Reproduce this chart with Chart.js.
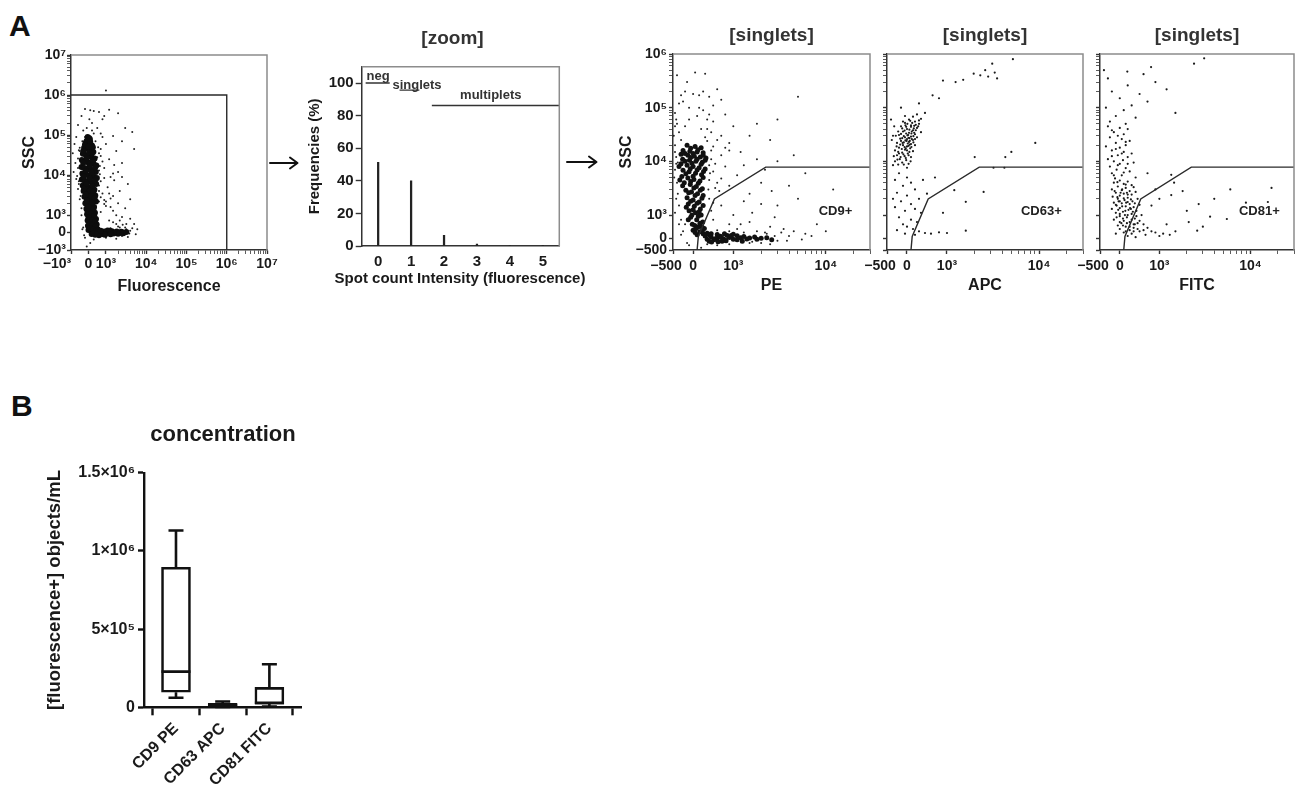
<!DOCTYPE html>
<html><head><meta charset="utf-8">
<script src="https://cdn.jsdelivr.net/npm/chart.js@4.4.1/dist/chart.umd.min.js"></script>
<style>
html,body{margin:0;padding:0;background:#fff;width:1298px;height:794px;overflow:hidden;position:relative;font-family:"Liberation Sans",Arial,sans-serif;}
canvas{position:absolute;}
.letter{position:absolute;font-weight:bold;font-size:30px;color:#111;line-height:1;}
</style></head><body>
<div class="letter" style="left:9px;top:10.5px">A</div>
<div class="letter" style="left:11px;top:390.5px">B</div>
<svg width="1298" height="794" style="position:absolute;left:0;top:0;pointer-events:none">
<g stroke="#111" stroke-width="2" fill="none" stroke-linecap="round" stroke-linejoin="round">
<path d="M270 163 H297 M290 157.5 L297.5 163 L290 168.5"/>
<path d="M567 162 H596 M589 156.5 L596.5 162 L589 167.5"/>
</g></svg>
<canvas id="c1" width="285" height="270" style="left:0;top:40px"></canvas>
<canvas id="c2" width="305" height="285" style="left:290px;top:20px"></canvas>
<canvas id="c3" width="285" height="285" style="left:600px;top:20px"></canvas>
<canvas id="c4" width="228" height="285" style="left:860px;top:20px"></canvas>
<canvas id="c5" width="225" height="285" style="left:1073px;top:20px"></canvas>
<canvas id="c6" width="320" height="374" style="left:0;top:420px"></canvas>
<script>
// ---------------- DATA ----------------
// Panel A, plot 1: Fluorescence vs SSC (event values)
const fluorXTicks = [-1000, 0, 1000, 1e4, 1e5, 1e6, 1e7];
const fluorXLabels = ['\u221210\u00b3\u2003\u2003', '0', '10\u00b3', '10\u2074', '10\u2075', '10\u2076', '10\u2077'];
const fluorYTicks = [-1000, 0, 1000, 1e4, 1e5, 1e6, 1e7];
const fluorYLabels = ['\u221210\u00b3', '0', '10\u00b3', '10\u2074', '10\u2075', '10\u2076', '10\u2077'];
const fluorGate = [[-1000, 1e6], [1e6, 1e6], [1e6, -1000]];
const fluorCore = [
[-50,90000],[80,80000],[-150,65000],[60,60000],[200,55000],[-250,48000],[-60,45000],[120,42000],[280,38000],
[-320,34000],[-150,32000],[20,30000],[180,28000],[350,26000],
[-380,24000],[-200,22000],[-40,21000],[130,20000],[300,19000],[450,17500],
[-400,16000],[-230,15000],[-70,14500],[100,14000],[260,13000],[420,12000],
[-350,11000],[-180,10500],[-20,10000],[150,9500],[320,9000],[480,8500],
[-380,7800],[-220,7300],[-60,7000],[110,6700],[280,6300],[440,6000],
[-330,5500],[-170,5200],[0,4900],[170,4600],[340,4300],
[-280,4000],[-120,3700],[50,3500],[220,3300],[390,3100],
[-230,2900],[-70,2700],[100,2500],[270,2350],[430,2200],
[-180,2000],[-20,1850],[150,1700],[320,1600],
[-120,1450],[40,1350],[200,1250],[370,1150],
[-80,1050],[90,950],[260,850],[430,780],
[-50,700],[120,620],[290,540],[470,460],
[-30,400],[150,330],[330,260],[520,200],
[0,150],[200,90],[400,40],[650,0],[900,60],[1150,-20],[1400,80],[1700,10],[2000,-60],[2400,50],
[180,-80],[380,-120],[600,-150],[850,-90],[1100,120],
[30,85000],[-100,72000],[100,68000],[-200,58000],[250,50000],[0,52000],[-300,40000],[50,37000],[200,35000],
[-100,27000],[270,24000],[-300,20500],[60,17000],[380,15500],[-150,12500],[200,11500],[-280,9300],[80,8200],
[380,7500],[-120,6000],[230,5400],[-250,4600],[80,4100],[280,3800],[-150,3300],[150,3000],[350,2700],
[-100,2300],[220,2050],[0,1600],[280,1400],[-50,1250],[150,1100],[330,950],[0,850],[200,720],[380,640],
[60,500],[240,440],[420,370],[80,250],[270,180],[460,120],[550,80],[760,-60],[1000,20],[1250,100],
[1550,-50],[1850,60],[2200,-20],[300,-20],[500,-80],[700,100],[950,-130],[1300,-100],[2700,-40],[3200,40]
];
const fluorSparse = [
[-200,450000],[100,420000],[300,400000],[600,380000],[1200,430000],[2000,350000],[-400,300000],[800,250000],
[3000,150000],[4500,120000],[-600,180000],[200,200000],[500,150000],[-300,130000],[700,110000],[1500,95000],
[2500,70000],[-700,90000],[-800,60000],[1000,60000],[5000,45000],[1800,40000],[-900,35000],[700,30000],
[1200,25000],[-750,20000],[2500,20000],[900,15000],[-850,12000],[1500,11000],[-700,8000],[700,7000],
[3500,6000],[1100,5000],[-600,4500],[800,3500],[1500,3000],[-500,2500],[600,2200],[2000,2000],[1000,1700],
[-400,1500],[3000,1500],[1500,1300],[700,1200],[2500,900],[4000,800],[1200,700],[5000,500],[1800,500],
[3000,300],[-300,300],[6000,200],[4000,100],[2800,-100],[3500,-250],[5500,-100],[-200,-300],[300,-400],
[100,-600],[-100,-800],[1000,-300],[1800,-350],[2200,300],[3200,500],[900,1900],[1300,2600],[550,9000],
[600,13000],[650,17000],[-600,26000],[400,70000],[-100,150000],[50,250000],[900,300000],[1000,1300000],
[4000,2500],[2200,4000],[1600,7500],[-500,40000],[-650,9500],[-550,6000],[600,4000],[1300,9000],[2000,12000],
[550,50000],[700,45000],[-550,42000],[600,35000],[800,22000],[-600,15000],[650,10500],[900,8500],[-550,7000],
[600,5500],[1200,3500],[700,2800],[900,2400],[1300,1600],[1800,1000],[2200,700],[2600,450],[3200,200],
[3800,-50],[4500,250],[-350,200],[-250,-150],[-400,1000],[-450,3000],[500,28000],[-500,48000],[300,110000],
[-200,90000],[200,130000],[-350,70000],[800,90000],[1600,18000],[2500,9000],[1000,2200],[1500,600],
[2600,150],[900,-200],[1300,250],[2000,350],[2500,-200]
];

// Panel A, histogram: spot count intensity
const histX = [0, 1, 2, 3, 4, 5];
const histY = [51.3, 40, 6.6, 1.2, 0.3, 0.1];
const histYTicks = [0, 20, 40, 60, 80, 100];
const histXTicks = [0, 1, 2, 3, 4, 5];
const negBar = [[-0.38, 100], [0.35, 100]];
const singletsBar = [[0.65, 95.6], [1.25, 95.6]];
const multipletsBar = [[1.63, 86.2], [5.5, 86.2]];

// Panel A, singlet plots (PE / APC / FITC vs SSC)
const sgXTicks = [-500, 0, 1000, 1e4];
const sgXLabels = ['\u2212500\u2003', '0', '10\u00b3', '10\u2074'];
const sgYTicks = [-500, 0, 1000, 1e4, 1e5, 1e6];
const sgYLabels = ['\u2212500', '0', '10\u00b3', '10\u2074', '10\u2075', '10\u2076'];
const singletGate = [[100, -500], [130, 80], [530, 2000], [2240, 7800], [30000, 7800]];
const peCore = [
[-150,20000],[50,19000],[200,18000],[-250,16000],[-80,15500],[100,15000],[250,14500],
[-300,13500],[-130,13000],[30,12500],[180,12000],[320,11500],
[-260,11000],[-90,10500],[70,10000],[230,9600],
[-300,9000],[-150,8500],[0,8000],[150,7600],[300,7200],
[-250,6800],[-100,6400],[60,6000],[210,5600],
[-280,5200],[-130,4900],[20,4600],[170,4300],
[-220,4000],[-70,3700],[80,3400],[230,3100],
[-180,2900],[-40,2700],[110,2500],[250,2300],
[-150,2100],[0,1900],[150,1750],
[-120,1600],[30,1450],[180,1300],
[-100,1200],[60,1100],[200,1000],
[-60,900],[90,800],[240,700],
[-20,600],[130,500],[280,420],
[0,350],[170,280],[350,220],
[100,150],[300,100],[450,60],[600,20],[750,-20],[900,40],[520,-60],[680,90],[850,120],[1000,-40],
[1200,30],[1400,-30],[1700,60],[2000,0],[400,-120],[620,-150],[820,-100],[1100,110],
[-60,17500],[120,16500],[-200,14000],[0,14000],[250,13000],[-60,11800],[100,11000],[300,10500],[-200,10000],
[-30,9200],[200,8800],[-350,8000],[-70,7300],[100,6900],[260,6500],[-180,5900],[0,5300],[250,5000],
[-330,4500],[-60,4200],[130,3900],[-260,3500],[20,3200],[180,2900],[-110,2600],[50,2300],[220,2050],
[-60,1800],[100,1650],[250,1500],[-170,1400],[0,1250],[150,1150],[-30,1000],[130,950],[-120,800],
[170,650],[40,550],[220,500],[80,420],[230,320],[50,250],[250,200],[400,150],[350,-40],[550,-20],
[700,40],[800,-80],[950,120],[1100,-60],[1300,80],[1500,20],[1800,-40],[2300,30],[450,200],[600,160],
[780,200],[1000,180],[460,-160],[720,-120],[1250,-120],[2600,-60]
];
const peSparse = [
[-400,400000],[50,450000],[300,430000],[-200,200000],[0,180000],[150,170000],[400,160000],[-350,120000],
[-100,100000],[250,90000],[500,110000],[700,140000],[-450,80000],[100,70000],[350,60000],[800,75000],
[-400,50000],[-200,45000],[200,40000],[450,35000],[1000,45000],[3000,60000],[5000,160000],[-480,30000],
[300,28000],[600,25000],[-450,20000],[500,19000],[900,22000],[1500,30000],[2500,25000],[-420,12000],
[450,11000],[700,13000],[1200,15000],[-450,7000],[500,6500],[800,8000],[1800,11000],[3000,10000],
[-400,4000],[400,4500],[700,4800],[1100,5500],[2000,4000],[-380,2500],[400,2000],[650,2800],[900,3500],
[1500,2500],[2600,2800],[4000,3500],[-350,1500],[450,1200],[700,1500],[1000,1000],[1300,1800],[2000,1600],
[3000,1500],[5000,2000],[-300,800],[500,800],[900,600],[1500,700],[2500,500],[3500,400],[4500,300],
[6000,200],[8000,600],[-250,300],[1100,400],[2200,250],[3000,-100],[4000,100],[5500,-50],[7000,100],
[10000,300],[-100,-300],[200,-400],[1500,-200],[2500,-250],[12000,3000],[6000,6000],[4500,13000],
[2200,7000],[1300,8500],[900,16000],[1800,50000],[-300,170000],[600,220000],[-350,35000],[-420,60000],
[350,24000],[-380,9500],[400,8500],[550,3200],[1600,1100],[2800,900],[-200,600],
[-450,15000],[-420,9000],[-470,5000],[450,16000],[550,9000],[420,6000],[600,4000],[380,3000],[500,1700],
[-420,2000],[-450,1100],[-350,600],[-300,150],[-150,-200],[350,-250],[600,-300],[900,-250],[1300,250],
[1800,300],[2300,200],[2800,100],[3300,250],[3800,-100],[1600,-150],[2000,-200],[600,350],[900,300],
[1200,600],[-300,25000],[350,40000],[-100,60000],[150,100000],[-250,130000],[400,75000],[-450,45000],
[250,200000],[-150,300000],[500,55000],[700,30000],[800,18000]
];
const apcPts = [
[250,75000],[150,68000],[350,62000],[50,60000],[200,55000],[-50,52000],[300,50000],[100,47000],[-150,45000],
[250,42000],[0,40000],[150,38000],[-100,36000],[50,34000],[200,32000],[-200,31000],[100,29000],[-50,28000],
[0,26000],[150,25000],[-150,24000],[50,23000],[-250,22000],[100,21000],[-100,20000],[0,19000],[-200,18000],
[80,17500],[-50,16500],[-300,16000],[150,15500],[-120,14500],[20,14000],[-250,13000],[-60,12500],[100,12000],
[-180,11000],[-20,10500],[-300,10000],[-120,9500],[40,9000],[-220,8700],[-350,8500],[0,7600],[-280,30000],
[-320,45000],[200,20000],[250,28000],[-380,25000],[350,35000],[-50,70000],[450,80000],[-150,100000],
[300,120000],[-400,60000],[100,44000],[-20,33000],[60,27000],[-80,22500],[120,36000],[-30,17500],
[30,31000],[180,46000],[-120,27000],[70,20500],[-10,24000],[220,38000],[-200,14000],[10,50000],
[-40,47000],[130,52000],[220,48000],[-120,41000],[60,39000],[170,41000],[-60,37500],[110,33000],[-150,32500],
[10,30500],[160,29500],[-80,29500],[40,27500],[-170,26500],[120,26000],[-40,24500],[70,24000],[-110,22000],
[20,21500],[160,22500],[-170,20500],[40,19500],[-60,18500],[110,18500],[-130,17000],[0,16000],[-220,15000],
[60,15000],[-90,13500],[-160,12000],[40,13000],[-30,11500],[-240,10800],[90,10000],[-80,8700],[180,34000],
[280,45000],[-220,36000],[-260,19000],[200,26000],[-20,44000],[80,57000],[-100,55000],[300,58000],
[-350,30000],[-330,12500],
[640,170000],[800,150000],[1240,300000],[1500,330000],[1950,430000],[2300,400000],[2600,500000],[3100,660000],
[3500,350000],[2800,380000],[3300,450000],[900,320000],[5200,800000],
[4300,12000],[5000,15000],[9100,22000],[3200,7600],[4200,7600],[2500,2700],[1600,1760],[900,1100],[1600,330],
[1200,2900],[2000,12000],[700,5000],
[-200,6000],[0,5000],[-300,4500],[100,4000],[-100,3500],[200,3000],[-250,2600],[0,2300],[300,2000],
[-150,1800],[100,1600],[-300,1400],[200,1300],[-50,1200],[350,1100],[-200,900],[100,800],[250,700],
[-100,600],[0,500],[150,400],[-250,350],[300,300],[450,230],[600,200],[800,260],[1000,230],[-50,200],
[200,150],[400,4500],[500,2500],[-350,2000]
];
const fitcPts = [
[3100,830000],[2400,660000],[790,570000],[190,470000],[-400,500000],[-300,350000],[600,420000],[900,300000],
[200,260000],[1200,220000],[-200,200000],[500,180000],[0,150000],[700,130000],[-350,100000],[300,110000],
[100,90000],[1500,80000],[-100,70000],[400,65000],[-250,55000],[150,50000],
[-300,45000],[0,42000],[200,40000],[-150,35000],[100,32000],[-250,28000],[50,26000],[250,24000],[-100,22000],
[150,20000],[-350,19000],[0,18000],[-200,16000],[100,15000],[300,14000],[-50,13000],[200,12000],[-300,11000],
[80,10500],[-150,10000],[350,9500],[0,9000],[-250,8000],[150,7500],[-80,7000],[250,6500],[-200,6000],
[50,5500],[400,5000],[-120,4800],
[0,4400],[200,4200],[-150,4000],[100,3800],[300,3600],[-50,3400],[150,3200],[-200,3000],[50,2900],[250,2800],
[400,2700],[-100,2600],[100,2500],[300,2400],[0,2300],[-180,2200],[200,2100],[450,2000],[-50,2000],[120,1900],
[320,1800],[-150,1700],[50,1650],[250,1600],[500,1550],[-80,1500],[150,1450],[350,1400],[0,1350],[-200,1300],
[220,1250],[420,1200],[80,1150],[-100,1100],[300,1050],[550,1000],[0,950],[180,900],[380,850],[-150,800],
[100,750],[250,700],[450,650],[600,600],[-50,550],[150,500],[350,450],[700,450],[0,400],[250,350],[500,300],
[800,300],[100,250],[-100,200],[300,200],[650,150],[900,250],[1100,200],[1300,150],[1500,300],[200,100],
[400,50],[1000,100],[60,3000],[180,2600],[-30,1800],[280,1300],[130,1000],[380,600],[40,650],[200,1750],
[-60,4100],[150,3700],[350,3300],[-130,2800],[20,2600],[200,2400],[-60,2150],[100,2050],[280,1950],[0,1800],
[160,1700],[380,1650],[-100,1550],[60,1450],[260,1350],[-40,1250],[140,1200],[330,1150],[0,1050],[200,1000],
[420,950],[-80,900],[80,850],[300,800],[500,750],[0,700],[180,650],[350,600],[80,550],[250,500],[450,400],
[600,350],[150,300],[350,300],[-150,5500],[100,6200],[-50,8500],[200,9000],[-200,12500],[50,14000],
[-100,17000],[150,23000],[-50,30000],[-200,38000],
[17000,3200],[15500,1750],[8900,1700],[5500,830],[3600,930],[2700,1600],[2600,330],[2100,700],[1350,2350],
[1450,4000],[1350,5600],[2000,1200],[1800,2800],[4000,2000],[3000,500],[1200,600],[6000,3000],[800,1500],
[1000,2000],[900,3000],[700,6000]
];

// Panel B: concentration box plot
const boxCats = ['CD9 PE', 'CD63 APC', 'CD81 FITC'];
const boxMin = [61000, 1500, 5000];
const boxQ1 = [96000, 4000, 20000];
const boxMed = [228000, 12000, 28000];
const boxQ3 = [895000, 25000, 127000];
const boxMax = [1130000, 37000, 275000];
const boxYTicks = [0, 500000, 1000000, 1500000];
const boxYLabels = ['0', '5\u00d710\u2075', '1\u00d710\u2076', '1.5\u00d710\u2076'];

// ---------------- SETUP ----------------
const FONT = '"Liberation Sans", Arial, sans-serif';
Chart.defaults.font.family = FONT;
Chart.defaults.font.weight = 'bold';
Chart.defaults.color = '#1a1a1a';
Chart.defaults.animation = false;
Chart.defaults.events = [];
Chart.defaults.plugins.legend.display = false;
Chart.defaults.plugins.tooltip.enabled = false;

// linear-around-zero / logarithmic display transform (biexponential-like axis)
const T = 1000;
function bx(v) { const a = Math.abs(v); return a <= T ? v / (T * Math.LN10) : Math.sign(v) * (Math.log10(a / T) + 1 / Math.LN10); }
function ibx(p) { const a = Math.abs(p); const k = 1 / Math.LN10; return a <= k ? p * T * Math.LN10 : Math.sign(p) * T * Math.pow(10, a - k); }

class BiexScale extends Chart.LinearScale {
  configure() { super.configure(); this._s0 = bx(this.min); this._s1 = bx(this.max); }
  getPixelForValue(v) { return (v === null || v === undefined) ? NaN : this.getPixelForDecimal((bx(v) - this._s0) / (this._s1 - this._s0)); }
  getValueForPixel(p) { return ibx(this._s0 + this.getDecimalForPixel(p) * (this._s1 - this._s0)); }
}
BiexScale.id = 'biex';
BiexScale.defaults = Chart.LinearScale.defaults;
Chart.register(BiexScale);

function minorsFor(lo, hi) { // minor ticks 2..9 x 10^k for decades in [lo, hi)
  const out = [];
  for (let d = lo; d < hi; d *= 10) for (let m = 2; m <= 9; m++) out.push(m * d);
  return out;
}
function tickList(majors, labels, minors) {
  const arr = majors.map((v, i) => ({ value: v, major: true, lab: labels ? labels[i] : '' }))
    .concat(minors.map(v => ({ value: v, major: false, lab: '' })));
  arr.sort((a, b) => a.value - b.value);
  return arr;
}
function textPlugin(items) {
  return {
    id: 'texts',
    afterDraw(chart) {
      const ctx = chart.ctx, a = chart.chartArea;
      ctx.save();
      items.forEach(it => {
        let x = it.x, y = it.y;
        if (it.data) { x = chart.scales.x.getPixelForValue(it.x); y = chart.scales.y.getPixelForValue(it.y); }
        if (it.cx) x = (a.left + a.right) / 2;
        ctx.font = 'bold ' + it.size + 'px ' + FONT;
        ctx.fillStyle = it.color || '#1a1a1a';
        ctx.textAlign = it.align || 'center';
        ctx.textBaseline = it.base || 'middle';
        ctx.fillText(it.t, x, y);
      });
      ctx.restore();
    }
  };
}
const framePlugin = {
  id: 'frame',
  afterDatasetsDraw(chart) {
    const ctx = chart.ctx, a = chart.chartArea;
    ctx.save();
    ctx.strokeStyle = '#8c8c8c'; ctx.lineWidth = 1.5;
    ctx.beginPath();
    ctx.moveTo(a.left, a.top); ctx.lineTo(a.right, a.top); ctx.lineTo(a.right, a.bottom);
    ctx.stroke();
    ctx.restore();
  }
};

function flowAxis(c) {
  return {
    type: 'biex', min: c.min, max: c.max,
    afterBuildTicks: s => { s.ticks = tickList(c.majors, c.labels, c.minors); },
    afterFit: s => { if (c.w !== undefined) s.width = c.w; if (c.h !== undefined) s.height = c.h; },
    ticks: { autoSkip: false, maxRotation: 0, minRotation: 0, padding: c.pad, font: { size: 14, weight: 'bold' }, color: '#1a1a1a',
      callback: (v, i, t) => t[i].lab },
    grid: { drawOnChartArea: false, drawTicks: true, tickLength: 4, tickColor: '#333',
      tickWidth: ctx => (ctx.tick && ctx.tick.major) ? 1.4 : 0.8 },
    border: { display: true, color: '#333', width: 1.5 },
    title: { display: !!c.title, text: c.title || '', font: { size: 16, weight: 'bold' }, color: '#1a1a1a', padding: c.titlePad }
  };
}
function pts(arr, r, color) {
  return { data: arr, pointRadius: r, pointBackgroundColor: color, pointBorderWidth: 0, showLine: false, pointHoverRadius: 0 };
}
function gate(arr) {
  return { data: arr, showLine: true, borderColor: '#2a2a2a', borderWidth: 1.4, pointRadius: 0, fill: false, tension: 0 };
}

// ---------------- Plot 1 ----------------
new Chart(document.getElementById('c1'), {
  type: 'scatter',
  data: { datasets: [gate(fluorGate), pts(fluorCore, 3.0, '#0d0d0d'), pts(fluorSparse, 1.0, '#222')] },
  options: {
    responsive: false, devicePixelRatio: 1,
    layout: { padding: { top: 15, right: 18, left: 0, bottom: 0 } },
    scales: {
      x: flowAxis({ min: -1000, max: 1e7, majors: fluorXTicks, labels: fluorXLabels, minors: minorsFor(1000, 1e7), h: 60, pad: 2,
        title: 'Fluorescence', titlePad: { top: 0, bottom: 14 } }),
      y: flowAxis({ min: -1000, max: 1e7, majors: fluorYTicks, labels: fluorYLabels, minors: minorsFor(1000, 1e7), w: 71, pad: 1,
        title: 'SSC', titlePad: { top: 20, bottom: 0 } })
    }
  },
  plugins: [framePlugin]
});

// ---------------- Histogram ----------------
new Chart(document.getElementById('c2'), {
  type: 'bar',
  data: { datasets: [
    { type: 'line', data: negBar, borderColor: '#333', borderWidth: 1.3, pointRadius: 0 },
    { type: 'line', data: singletsBar, borderColor: '#333', borderWidth: 1.3, pointRadius: 0 },
    { type: 'line', data: multipletsBar, borderColor: '#333', borderWidth: 1.3, pointRadius: 0 },
    { type: 'bar', data: histX.map((x, i) => ({ x: x, y: histY[i] })), backgroundColor: '#222', barThickness: 1.6, borderWidth: 0 }
  ] },
  options: {
    responsive: false, devicePixelRatio: 1,
    layout: { padding: { top: 46.7, right: 35.7, left: 0, bottom: 0 } },
    scales: {
      x: { type: 'linear', min: -0.5, max: 5.5, offset: false,
        afterBuildTicks: s => { s.ticks = histXTicks.map(v => ({ value: v })); },
        afterFit: s => { s.height = 59; },
        ticks: { autoSkip: false, maxRotation: 0, padding: 7, font: { size: 15, weight: 'bold' }, color: '#1a1a1a', callback: v => String(v) },
        grid: { drawOnChartArea: false, drawTicks: false },
        border: { display: true, color: '#333', width: 1.5 } },
      y: { type: 'linear', min: 0, max: 110,
        afterBuildTicks: s => { s.ticks = histYTicks.map(v => ({ value: v })); },
        afterFit: s => { s.width = 71.7; },
        ticks: { autoSkip: false, padding: 2, font: { size: 15, weight: 'bold' }, color: '#1a1a1a', callback: v => String(v) },
        grid: { drawOnChartArea: false, drawTicks: true, tickLength: 6, tickColor: '#333', tickWidth: 1.4 },
        border: { display: true, color: '#333', width: 1.5 },
        title: { display: true, text: 'Frequencies (%)', font: { size: 15, weight: 'bold' }, color: '#1a1a1a', padding: { top: 16, bottom: 0 } } }
    }
  },
  plugins: [framePlugin, textPlugin([
    { t: '[zoom]', x: 162.5, y: 24, size: 19, base: 'alphabetic', color: '#333' },
    { t: 'Spot count Intensity (fluorescence)', x: 170, y: 259, size: 15, color: '#1a1a1a' },
    { t: 'neg', x: 0, y: 104.2, data: true, size: 13, color: '#333' },
    { t: 'singlets', x: 1.18, y: 98.5, data: true, size: 13, color: '#333' },
    { t: 'multiplets', x: 3.42, y: 92.3, data: true, size: 13, color: '#333' }
  ])]
});

// ---------------- Singlet plots ----------------
function singletChart(id, pointSets, xTitle, showY, yW, padRight, posLabel) {
  new Chart(document.getElementById(id), {
    type: 'scatter',
    data: { datasets: [gate(singletGate)].concat(pointSets) },
    options: {
      responsive: false, devicePixelRatio: 1,
      layout: { padding: { top: 34, right: padRight, left: 0, bottom: 0 } },
      scales: {
        x: flowAxis({ min: -500, max: 30000, majors: sgXTicks, labels: sgXLabels, minors: minorsFor(1000, 10000).concat([20000, 30000]),
          h: 55, pad: 4, title: xTitle, titlePad: { top: 0, bottom: 10 } }),
        y: flowAxis({ min: -500, max: 1e6, majors: sgYTicks, labels: showY ? sgYLabels : null, minors: minorsFor(1000, 1e6), w: yW, pad: 2,
          title: showY ? 'SSC' : '', titlePad: { top: 17, bottom: 0 } })
      }
    },
    plugins: [framePlugin, textPlugin([
      { t: '[singlets]', cx: true, y: 21, size: 19, base: 'alphabetic', color: '#333' },
      { t: posLabel[0], x: posLabel[1], y: posLabel[2], data: true, size: 13, color: '#222' }
    ])]
  });
}
singletChart('c3', [pts(peCore, 2.5, '#111'), pts(peSparse, 1.0, '#222')], 'PE', true, 73, 15, ['CD9+', 12700, 1150]);
singletChart('c4', [pts(apcPts, 1.1, '#1a1a1a')], 'APC', false, 27, 5, ['CD63+', 10600, 1150]);
singletChart('c5', [pts(fitcPts, 1.1, '#1a1a1a')], 'FITC', false, 27, 1, ['CD81+', 12500, 1150]);

// ---------------- Box plot ----------------
const boxPlugin = {
  id: 'boxwhisk',
  afterDatasetsDraw(chart) {
    const ctx = chart.ctx, xs = chart.scales.x, ys = chart.scales.y;
    ctx.save();
    ctx.strokeStyle = '#111'; ctx.lineWidth = 2.6; ctx.lineCap = 'butt';
    boxCats.forEach((c, i) => {
      const x = xs.getPixelForValue(i);
      const yMax = ys.getPixelForValue(boxMax[i]), yQ3 = ys.getPixelForValue(boxQ3[i]);
      const yMin = ys.getPixelForValue(boxMin[i]), yQ1 = ys.getPixelForValue(boxQ1[i]);
      const yMed = ys.getPixelForValue(boxMed[i]);
      ctx.beginPath();
      ctx.moveTo(x, yQ3); ctx.lineTo(x, yMax);
      ctx.moveTo(x - 7.5, yMax); ctx.lineTo(x + 7.5, yMax);
      ctx.moveTo(x, yQ1); ctx.lineTo(x, yMin);
      ctx.moveTo(x - 7.5, yMin); ctx.lineTo(x + 7.5, yMin);
      ctx.moveTo(x - 14.5, yMed); ctx.lineTo(x + 14.5, yMed);
      ctx.stroke();
    });
    ctx.restore();
  }
};
new Chart(document.getElementById('c6'), {
  type: 'bar',
  data: { datasets: [{
    data: boxCats.map((c, i) => ({ x: i, y: [boxQ1[i], boxQ3[i]] })),
    backgroundColor: '#fff', borderColor: '#111', borderWidth: 2.6, borderSkipped: false, barThickness: 29
  }] },
  options: {
    responsive: false, devicePixelRatio: 1,
    layout: { padding: { top: 52.7, right: 18.3, left: 0, bottom: 0 } },
    scales: {
      x: { type: 'linear', min: -0.685, max: 2.692, offset: false,
        afterBuildTicks: s => { s.ticks = boxCats.map((c, i) => ({ value: i })); },
        afterFit: s => { s.height = 86.7; },
        ticks: { autoSkip: false, minRotation: 45, maxRotation: 45, padding: 4, font: { size: 16, weight: 'bold' }, color: '#1a1a1a',
          callback: (v, i) => boxCats[i] },
        grid: { drawOnChartArea: false, drawTicks: true, tickLength: 8, tickColor: '#111', tickWidth: 2.4 },
        border: { display: true, color: '#111', width: 2.4 } },
      y: { type: 'linear', min: 0, max: 1500000,
        afterBuildTicks: s => { s.ticks = boxYTicks.map(v => ({ value: v })); },
        afterFit: s => { s.width = 144; },
        ticks: { autoSkip: false, padding: 3, font: { size: 16, weight: 'bold' }, color: '#1a1a1a', callback: (v, i) => boxYLabels[i] },
        grid: { drawOnChartArea: false, drawTicks: true, tickLength: 6, tickColor: '#111', tickWidth: 2.4 },
        border: { display: true, color: '#111', width: 2.4 },
        title: { display: true, text: '[fluorescence+] objects/mL', font: { size: 18.5, weight: 'bold' }, color: '#1a1a1a', padding: { top: 44, bottom: 0 } } }
    }
  },
  plugins: [boxPlugin, textPlugin([
    { t: 'concentration', x: 223, y: 21, size: 22, base: 'alphabetic', color: '#1a1a1a' }
  ])]
});
</script>
</body></html>
